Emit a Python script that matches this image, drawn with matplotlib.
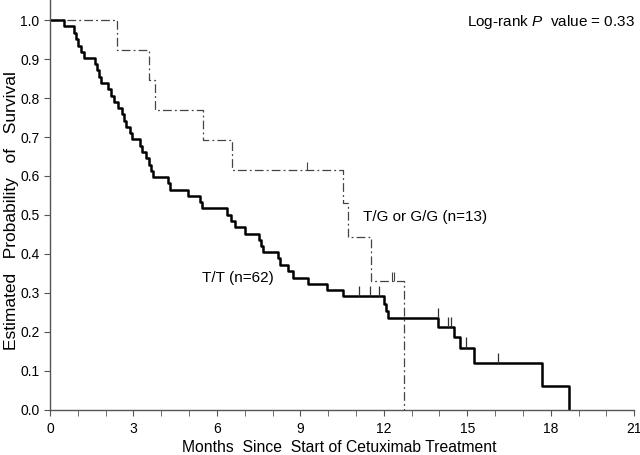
import matplotlib
matplotlib.use('Agg')
import matplotlib.pyplot as plt
from matplotlib.ticker import MultipleLocator

plt.rcParams['font.family'] = ['Liberation Sans', 'DejaVu Sans']
plt.rcParams['mathtext.fontset'] = 'custom'
plt.rcParams['mathtext.it'] = 'Liberation Sans:italic'
plt.rcParams['mathtext.rm'] = 'Liberation Sans'

# T/T (n=62): step times (months) and survival after each step
tt_times = [0.50, 0.87, 0.95, 1.02, 1.12, 1.23, 1.63, 1.70, 1.77, 1.83,
            2.10, 2.20, 2.30, 2.43, 2.58, 2.65, 2.73, 2.88, 2.95,
            3.24, 3.30, 3.45, 3.55, 3.62, 3.72, 4.25, 4.30, 4.97, 5.39, 5.45,
            6.38, 6.50, 6.65, 7.01, 7.53, 7.58, 7.65, 8.21, 8.27, 8.55, 8.73,
            9.29, 9.95, 10.52, 11.99, 12.08, 12.15, 13.96, 14.53, 14.72,
            15.25, 17.70, 18.66]
tt_surv = [0.984, 0.968, 0.952, 0.935, 0.919, 0.903, 0.887, 0.871, 0.855, 0.839,
           0.823, 0.806, 0.790, 0.774, 0.758, 0.742, 0.726, 0.710, 0.694,
           0.677, 0.661, 0.645, 0.629, 0.613, 0.597, 0.581, 0.565, 0.549, 0.533, 0.517,
           0.500, 0.484, 0.468, 0.452, 0.436, 0.420, 0.404, 0.388, 0.371, 0.355, 0.339,
           0.323, 0.307, 0.291, 0.272, 0.253, 0.234, 0.212, 0.185, 0.159,
           0.120, 0.060, 0.0]
tt_cens_t = [11.12, 11.50, 11.84, 13.93, 14.30, 14.40, 14.96, 16.10]
tt_cens_s = [0.291, 0.291, 0.291, 0.234, 0.212, 0.212, 0.159, 0.120]

# T/G or G/G (n=13)
tg_times = [2.42, 3.57, 3.78, 5.51, 6.53, 10.52, 10.73, 11.53, 12.74]
tg_surv = [0.923, 0.846, 0.769, 0.692, 0.615, 0.530, 0.442, 0.331, 0.0]
tg_cens_t = [9.23, 12.30, 12.36]
tg_cens_s = [0.615, 0.331, 0.331]

fig = plt.figure(figsize=(6.4, 4.55), dpi=100)
ax = fig.add_axes([0.078, 0.100, 0.913, 0.900])

ax.step([0] + tg_times, [1.0] + tg_surv, where='post', color='#444444',
        lw=0.9, dashes=[7, 2.5, 1.5, 2.5])
ax.vlines(tg_cens_t, tg_cens_s, [s + 0.022 for s in tg_cens_s], color='#444444', lw=0.8)

ax.step([0] + tt_times, [1.0] + tt_surv, where='post', color='black', lw=1.8)
ax.vlines(tt_cens_t, tt_cens_s, [s + 0.026 for s in tt_cens_s], color='#333333', lw=0.9)

ax.text(6.76, 0.338, 'T/T (n=62)', fontsize=11, ha='center', va='center')
ax.text(11.26, 0.494, 'T/G or G/G (n=13)', fontsize=11, ha='left', va='center')
ax.text(21.04, 0.996, 'Log-rank $P$  value = 0.33', fontsize=11,
        ha='right', va='center')

ax.set_xlim(0, 21)
ax.set_ylim(0, 1.052)
ax.xaxis.set_major_locator(MultipleLocator(3))
ax.xaxis.set_minor_locator(MultipleLocator(1))
ax.set_yticks([i / 10 for i in range(11)])
ax.set_yticklabels([f'{i / 10:.1f}' for i in range(11)])

for side in ['top', 'right']:
    ax.spines[side].set_visible(False)
for side in ['left', 'bottom']:
    ax.spines[side].set_color('#555555')
    ax.spines[side].set_linewidth(1.0)
ax.tick_params(which='both', direction='out', color='#555555', labelsize=10, length=4)
ax.tick_params(axis='x', pad=5)

ax.set_xlabel('Months  Since  Start of Cetuximab Treatment', fontsize=11.3, va='center')
ax.xaxis.set_label_coords(0.496, -0.092)
ax.set_ylabel('Estimated   Probability   of   Survival', fontsize=12.5, va='center')
ax.yaxis.set_label_coords(-0.065, 0.487)

fig.savefig('out.png', dpi=100)
